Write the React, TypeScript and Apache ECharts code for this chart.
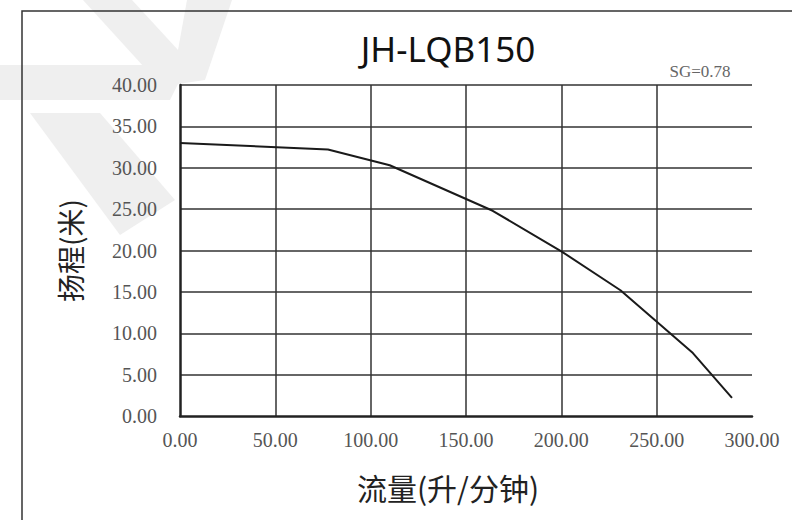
import React, { useEffect, useRef } from "react";
import * as echarts from "echarts";

const title = "JH-LQB150";
const sgNote = "SG=0.78";
const xAxisName = "流量(升/分钟)";
const yAxisName = "扬程(米)";

const flow = [0, 77.6, 110, 164, 200, 231, 269, 289.5];
const head = [33.0, 32.2, 30.3, 24.8, 19.9, 15.2, 7.6, 2.2];

const xMin = 0;
const xMax = 300;
const xStep = 50;
const yMin = 0;
const yMax = 40;
const yStep = 5;

export default function App() {
  const ref = useRef<HTMLDivElement>(null);

  useEffect(() => {
    if (!ref.current) return;
    const chart = echarts.init(ref.current, null, { renderer: "svg" });
    const wm = "#efefef";
    const option: any = {
      animation: false,
      backgroundColor: "#ffffff",
      graphic: [
        { type: "polygon", z: -100, shape: { points: [[83, 0], [132, 0], [178, 50], [178, 84], [165, 90]] }, style: { fill: wm } },
        { type: "polygon", z: -100, shape: { points: [[187, 0], [232, 0], [205, 80], [178, 84], [178, 50]] }, style: { fill: wm } },
        { type: "polygon", z: -100, shape: { points: [[0, 65], [150, 65], [178, 84], [170, 100], [0, 100]] }, style: { fill: wm } },
        { type: "polygon", z: -100, shape: { points: [[30, 113], [100, 113], [175, 200], [120, 235]] }, style: { fill: wm } },
        {
          type: "rect",
          z: 50,
          shape: { x: 22, y: 11, width: 800, height: 600 },
          style: { fill: "none", stroke: "#333", lineWidth: 1.5 },
        },
        {
          type: "text",
          z: 50,
          x: 448,
          y: 48,
          style: {
            text: title,
            font: "normal 35px 'Noto Sans', sans-serif",
            fill: "#111",
            align: "center",
            verticalAlign: "middle",
          },
        },
        {
          type: "text",
          z: 50,
          x: 700,
          y: 71,
          style: {
            text: sgNote,
            font: "normal 17px 'Liberation Serif', serif",
            fill: "#666",
            align: "center",
            verticalAlign: "middle",
          },
        },
      ],
      grid: { left: 180, top: 85, right: 40, bottom: 104, containLabel: false },
      xAxis: {
        type: "value",
        min: xMin,
        max: xMax,
        interval: xStep,
        name: xAxisName,
        nameLocation: "middle",
        nameGap: 56,
        nameTextStyle: {
          fontFamily: "'Noto Sans CJK SC', sans-serif",
          fontSize: 30,
          color: "#222",
          padding: [0, 36, 0, 0],
        },
        axisLine: { show: true, lineStyle: { color: "#222", width: 2.5 } },
        axisTick: { show: false },
        axisLabel: {
          margin: 14,
          color: "#555",
          fontFamily: "'Liberation Serif', serif",
          fontSize: 20,
          formatter: (v: number) => v.toFixed(2),
        },
        splitLine: { show: true, showMinLine: false, showMaxLine: false, lineStyle: { color: "#333", width: 1.5 } },
      },
      yAxis: {
        type: "value",
        min: yMin,
        max: yMax,
        interval: yStep,
        name: yAxisName,
        nameLocation: "middle",
        nameGap: 96,
        nameTextStyle: { fontFamily: "'Noto Sans CJK SC', sans-serif", fontSize: 28, color: "#222" },
        axisLine: { show: true, lineStyle: { color: "#222", width: 2.5 } },
        axisTick: { show: false },
        axisLabel: {
          margin: 23,
          color: "#555",
          fontFamily: "'Liberation Serif', serif",
          fontSize: 20,
          formatter: (v: number) => v.toFixed(2),
        },
        splitLine: { show: true, showMinLine: false, showMaxLine: true, lineStyle: { color: "#333", width: 1.5 } },
      },
      series: [
        {
          type: "line",
          data: flow.map((x, i) => [x, head[i]]),
          showSymbol: false,
          symbol: "none",
          lineStyle: { color: "#1a1a1a", width: 2 },
          z: 5,
        },
      ],
    };
    chart.setOption(option);
    return () => chart.dispose();
  }, []);

  return (
    <div
      ref={ref}
      style={{ position: "absolute", left: 0, top: 0, width: 792, height: 520 }}
    />
  );
}
